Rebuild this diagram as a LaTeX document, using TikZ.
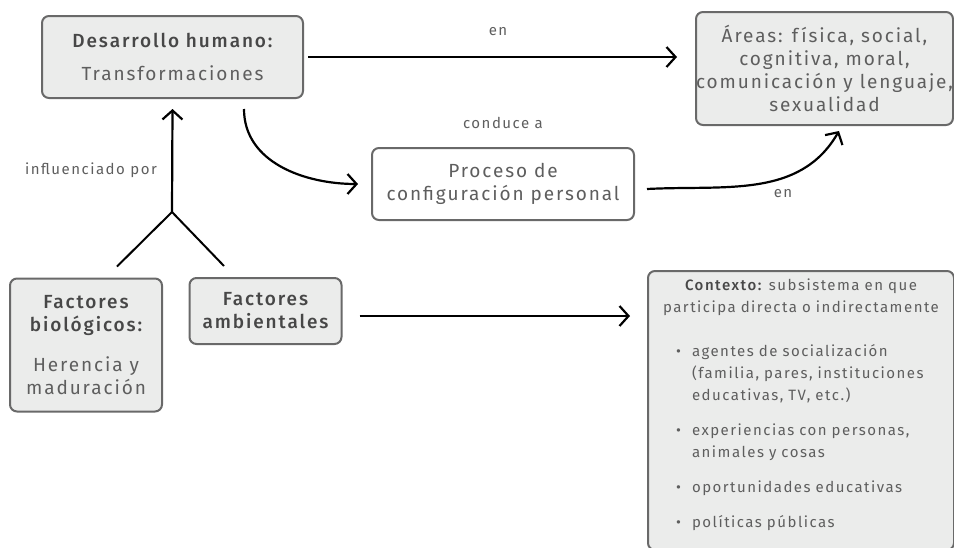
\documentclass[tikz,border=0pt]{standalone}
\usepackage{fontspec}
\setmainfont{Fira Sans}[LetterSpace=10]
\newfontfamily\medfont{Fira Sans}[UprightFont={* Medium},LetterSpace=10]
\usetikzlibrary{arrows.meta,positioning}
\definecolor{boxfill}{HTML}{EBECEB}
\definecolor{boxline}{HTML}{696969}
\definecolor{boxtext}{HTML}{5E5E5E}
\definecolor{boldtext}{HTML}{474747}
\newcommand{\hd}[1]{{\color{boldtext}\medfont #1}}

\begin{document}
\begin{tikzpicture}[x=1pt, y=-1pt, >={Straight Barb[length=9pt,width=20pt]}, line width=2pt, align=center,
  box/.style={draw=boxline, line width=2pt, fill=boxfill, rounded corners=7pt, text=boxtext, inner sep=0pt, font=\fontsize{19}{23}\selectfont},
  lbl/.style={text=boxtext, font=\fontsize{15}{18}\selectfont},
  arr/.style={->, line width=2.2pt}]
  \useasboundingbox (0,0) rectangle (954,547);

  \node[box, minimum width=261, minimum height=82]              (des)   at (172.5,57)  {\hd{Desarrollo humano:}\\[10pt] Transformaciones};
  \node[box, minimum width=257, minimum height=113]             (areas) at (824.5,68.5) {Áreas: física, social,\\ cognitiva, moral,\\ \makebox[0pt]{comunicación y lenguaje,}\\ sexualidad};
  \node[box, fill=white, minimum width=262, minimum height=72]  (proc)  at (503,184)   {Proceso de\\ configuración personal};
  \node[box, minimum width=152, minimum height=133]             (bio)   at (86,345)    {\hd{Factores}\\ \hd{biológicos:}\\[17pt] Herencia y\\ maduración};
  \node[box, minimum width=152, minimum height=66]              (amb)   at (265.5,311) {\hd{Factores}\\ \hd{ambientales}};
  \node[box, anchor=north west, minimum width=306, minimum height=279, text width=300, align=left, font=\fontsize{15}{22}\selectfont] (ctx) at (647,270)
    {{\centering \hd{Contexto:} subsistema en que\\ participa directa o indirectamente\par}
     \begin{list}{\textbullet}{\leftmargin=41pt \labelsep=11pt \itemsep=13pt \topsep=20pt \parsep=0pt}
       \item agentes de socialización\\ (familia, pares, instituciones\\ educativas, TV, etc.)
       \item experiencias con personas,\\ animales y cosas
       \item oportunidades educativas
       \item políticas públicas
     \end{list}\par\vspace*{-10pt}};

  \node[lbl] (en1)  at (498,32)  {en};
  \node[lbl] (cond) at (503,123) {conduce a};
  \node[lbl] (en2)  at (783,194) {en};
  \node[lbl] (infl) at (91,170)  {influenciado por};

  \coordinate (fork) at (172,212);

  \draw[arr] ([shift={(4,0)}]des.east) -- ([shift={(-18,-11.5)}]areas.west);
  \draw[arr] ([shift={(71.5,10)}]des.south) to[out=-90, in=180] ([shift={(-13,0)}]proc.west);
  \draw[arr] ([shift={(12,5)}]proc.east) to[out=3, in=-120] ([shift={(14.5,5)}]areas.south);
  \draw[arr] (fork) -- ([shift={(0,10)}]des.south);
  \draw (fork) -- ([shift={(31,-11)}]bio.north)
        (fork) -- ([shift={(-41.5,-11)}]amb.north);
  \draw[arr] ([shift={(17,5)}]amb.east) -- ([shift={(-17,46)}]ctx.north west);
\end{tikzpicture}
\end{document}
